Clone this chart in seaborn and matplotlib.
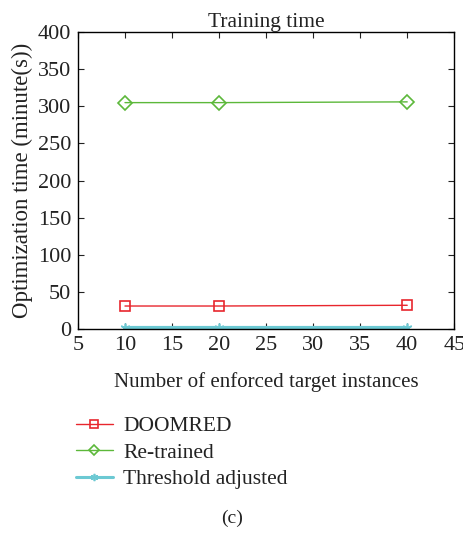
import numpy as np
import pandas as pd
import seaborn as sns
from matplotlib import pyplot as plt

instances = [10, 20, 40]
doomred = [31, 31, 32]
retrained = [305, 305, 306]
threshold = [1, 1, 1]
x_ticks = [5, 10, 15, 20, 25, 30, 35, 40, 45]
y_ticks = [0, 50, 100, 150, 200, 250, 300, 350, 400]

sns.set_theme(style="ticks")
plt.rcParams['font.family'] = ['Liberation Serif', 'DejaVu Serif']
plt.rcParams['text.color'] = '#222222'
plt.rcParams['axes.labelcolor'] = '#222222'
plt.rcParams['xtick.color'] = '#222222'
plt.rcParams['ytick.color'] = '#222222'

fig = plt.figure(figsize=(4.64, 5.35), dpi=100)
ax = fig.add_axes([0.168, 0.385, 0.811, 0.555])

df = pd.DataFrame({
    'x': instances * 3,
    'y': doomred + retrained + threshold,
    'method': ['DOOMRED'] * 3 + ['Re-trained'] * 3 + ['Threshold adjusted'] * 3,
})

styles = {
    'DOOMRED': dict(color='#e8262d', marker='s', lw=1.0, ms=7, mfc='none', mew=1.2),
    'Re-trained': dict(color='#5cb83a', marker='D', lw=1.0, ms=7, mfc='none', mew=1.2),
    'Threshold adjusted': dict(color='#6cc9d3', marker=(6, 2, 0), lw=3.0, ms=7, mew=1.2),
}
for name, st in styles.items():
    sub = df[df['method'] == name]
    sns.lineplot(data=sub, x='x', y='y', ax=ax, label=name, color=st['color'],
                 marker=st['marker'], linewidth=st['lw'], markersize=st['ms'],
                 markerfacecolor=st.get('mfc', st['color']),
                 markeredgecolor=st['color'], markeredgewidth=st['mew'])

ax.set_xlim(5, 45)
ax.set_ylim(0, 400)
ax.set_xticks(x_ticks)
ax.set_yticks(y_ticks)
ax.tick_params(direction='in', top=True, right=True, length=4, width=0.8,
               labelsize=16, pad=5)
for s in ax.spines.values():
    s.set_linewidth(1.0)
    s.set_color('black')
ax.set_xlabel('Number of enforced target instances', fontsize=15, labelpad=12)
ax.set_ylabel('Optimization time (minute(s))', fontsize=16.5, labelpad=3)
ax.set_title('Training time', fontsize=15.5, pad=4)

leg = ax.legend(loc='upper left', bbox_to_anchor=(-0.028, -0.265), frameon=False,
                fontsize=15.5, handlelength=1.7, handletextpad=0.5, labelspacing=0.3,
                borderaxespad=0, markerscale=0.75)
for h in leg.get_lines():
    if h.get_linewidth() > 2:
        h.set_linewidth(2.2)

fig.text(0.5, 0.032, '(c)', ha='center', va='center', fontsize=14)

fig.savefig('out.png', dpi=100)
